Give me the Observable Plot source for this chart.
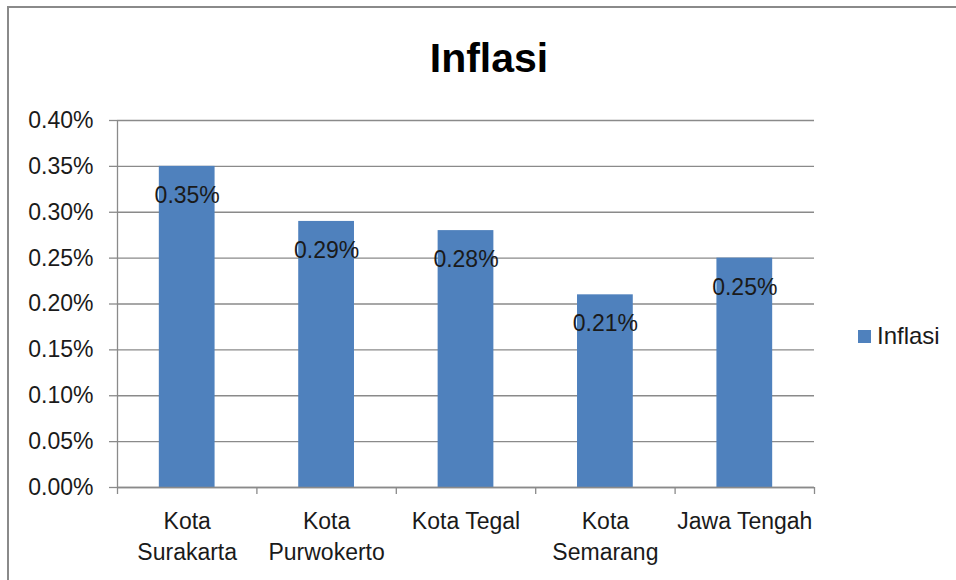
<!DOCTYPE html>
<html>
<head>
<meta charset="utf-8">
<script src="https://cdn.jsdelivr.net/npm/d3@7"></script>
<script src="https://cdn.jsdelivr.net/npm/@observablehq/plot@0.6"></script>
<style>
  html, body { margin: 0; padding: 0; background: #fff; }
  #wrap { position: relative; width: 956px; height: 580px; overflow: hidden; font-family: "Liberation Sans", Arial, sans-serif; }
  #frame { position: absolute; left: 7px; top: 6px; width: 1000px; height: 1000px; border-left: 2.5px solid #8a8a8a; border-top: 2.5px solid #8a8a8a; box-sizing: border-box; pointer-events: none; }
  #title { position: absolute; left: 489px; top: 58px; transform: translate(-50%, -50%); font-weight: bold; font-size: 41px; color: #000; white-space: nowrap; }
  #legend { position: absolute; left: 858px; top: 336px; transform: translateY(-50%); display: flex; align-items: center; font-size: 24px; color: #1a1a1a; }
  #legend .sw { width: 13px; height: 13px; background: #4F81BD; margin-right: 6px; }
  #chart { position: absolute; left: 0; top: 0; }
</style>
</head>
<body>
<div id="wrap">
  <div id="chart"></div>
  <div id="frame"></div>
  <div id="title">Inflasi</div>
  <div id="legend"><div class="sw"></div><span>Inflasi</span></div>
</div>
<script>
const categories = ["Kota Surakarta", "Kota Purwokerto", "Kota Tegal", "Kota Semarang", "Jawa Tengah"];
const categoryLabels = ["Kota\nSurakarta", "Kota\nPurwokerto", "Kota Tegal", "Kota\nSemarang", "Jawa Tengah"];
const inflasiPercent = [0.35, 0.29, 0.28, 0.21, 0.25];
const yTicks = [0, 0.0005, 0.001, 0.0015, 0.002, 0.0025, 0.003, 0.0035, 0.004];

const data = categories.map((c, i) => ({ kota: c, label: categoryLabels[i], value: inflasiPercent[i] / 100 }));
const labelOf = new Map(data.map(d => [d.kota, d.label]));

const W = 956, H = 580, mL = 117, mR = 142, mT = 120, mB = 93;
const step = (W - mL - mR) / categories.length;
const fmt = d3.format(".2%");
const grey = "#8a8a8a";
const ink = "#1a1a1a";

const chart = Plot.plot({
  width: W,
  height: H,
  marginLeft: mL,
  marginRight: mR,
  marginTop: mT,
  marginBottom: mB,
  style: { fontFamily: "'Liberation Sans', Arial, sans-serif", fontSize: "23px", color: ink, background: "transparent" },
  x: { domain: categories, paddingInner: 0.6, paddingOuter: 0.3, round: false, label: null },
  y: { domain: [0, 0.004], label: null },
  marks: [
    Plot.gridY(yTicks, { stroke: grey, strokeOpacity: 1, strokeWidth: 1.3 }),
    Plot.axisY(yTicks, { tickFormat: fmt, tickSize: 8, tickPadding: 16, stroke: grey, strokeWidth: 1.3, fill: ink, fontSize: 23, label: null }),
    Plot.ruleX([categories[0]], { x: d => d, dx: -step / 2, y1: 0, y2: 0.004, stroke: grey, strokeWidth: 1.3 }),
    Plot.barY(data, { x: "kota", y: "value", fill: "#4F81BD" }),
    Plot.ruleY([0], { stroke: grey, strokeWidth: 1.3 }),
    Plot.ruleX(categories, { x: d => d, dx: -step / 2, y1: 0, y2: 0, insetBottom: -7, stroke: grey, strokeWidth: 1.3 }),
    Plot.ruleX([categories[categories.length - 1]], { x: d => d, dx: step / 2, y1: 0, y2: 0, insetBottom: -7, stroke: grey, strokeWidth: 1.3 }),
    Plot.text(data, { x: "kota", y: "value", text: d => fmt(d.value), dy: 29, fill: ink, fontSize: 23 }),
    Plot.axisX({ tickSize: 0, tickPadding: 20, tickFormat: d => labelOf.get(d), lineHeight: 1.33, fill: ink, fontSize: 23, label: null })
  ]
});

document.getElementById("chart").appendChild(chart);
</script>
</body>
</html>
